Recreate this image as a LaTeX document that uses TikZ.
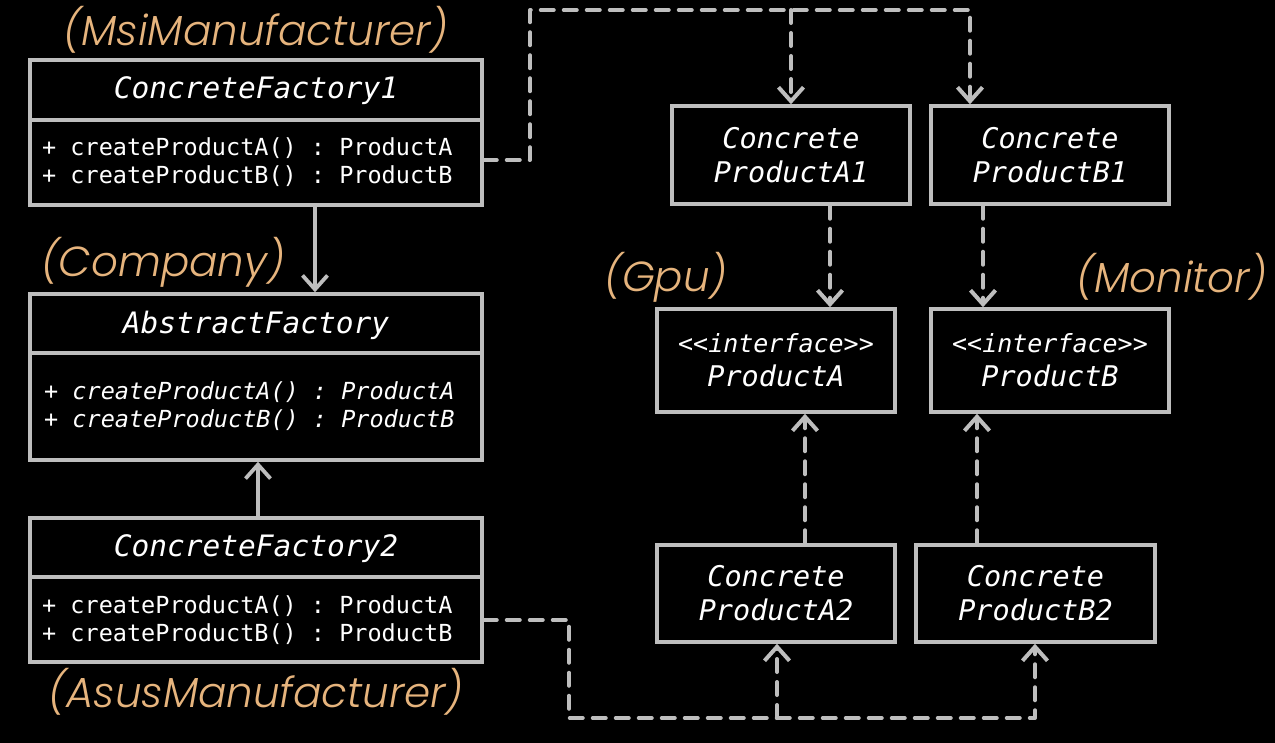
\documentclass[tikz,border=0pt]{standalone}
\usepackage{fontspec}
\setmonofont{DejaVu Sans Mono}
\newfontfamily\labfont{Poppins Light Italic}
\usetikzlibrary{arrows.meta}
\definecolor{ln}{HTML}{BEBEBE}
\definecolor{org}{HTML}{E6B47D}
\begin{document}
\begin{tikzpicture}[x=1pt,y=-1pt,
  box/.style={draw=ln,line width=3.5pt,inner sep=0pt,fill=black},
  cls/.style={box,minimum width=452pt},
  pbox/.style={box,minimum width=238pt,align=center,text=white,
    font=\ttfamily\itshape\fontsize{28.5}{34}\selectfont},
  ttl/.style={text=white,font=\ttfamily\itshape\fontsize{29.5}{34}\selectfont,inner sep=0pt},
  meth/.style={text=white,anchor=west,align=left,inner sep=0pt,
    font=\ttfamily\fontsize{23.5}{28}\selectfont},
  methi/.style={meth,font=\ttfamily\itshape\fontsize{23.5}{28}\selectfont},
  lab/.style={text=org,font=\labfont\fontsize{42}{46}\selectfont,inner sep=0pt},
  div/.style={draw=ln,line width=3.5pt},
  tipo/.tip={Straight Barb[length=14pt,width=25pt]},
  sol/.style={draw=ln,line width=3.8pt,-tipo},
  dep/.style={draw=ln,line width=4pt,dash pattern=on 13pt off 10pt,line cap=round,line join=round},
  depa/.style={dep,-tipo}
]
\fill[black] (0,0) rectangle (1275,743);
\useasboundingbox (0,0) rectangle (1275,743);

% class boxes
\node[cls,minimum height=145pt] (cf1) at (256,132.5) {};
\node[cls,minimum height=166pt] (af) at (256,377) {};
\node[cls,minimum height=144pt] (cf2) at (256,590) {};
\draw[div] (cf1.west |- 0,120) -- (cf1.east |- 0,120);
\draw[div] (af.west |- 0,353) -- (af.east |- 0,353);
\draw[div] (cf2.west |- 0,577) -- (cf2.east |- 0,577);

\node[ttl] (cf1t) at (256,91) {ConcreteFactory1};
\node[meth] (cf1m) at (42,162) {+ createProductA() : ProductA\\+ createProductB() : ProductB};
\node[ttl] (aft) at (256,325) {AbstractFactory};
\node[methi] (afm) at (44,406) {+ createProductA() : ProductA\\+ createProductB() : ProductB};
\node[ttl] (cf2t) at (256,549) {ConcreteFactory2};
\node[meth] (cf2m) at (42,620) {+ createProductA() : ProductA\\+ createProductB() : ProductB};

% product boxes
\node[pbox,minimum height=98pt] (cpa1) at (791,155) {Concrete\\ProductA1};
\node[pbox,minimum height=98pt] (cpb1) at (1050,155) {Concrete\\ProductB1};
\node[pbox,minimum height=103pt] (pa) at (776,360.5) {{\fontsize{25}{33}\selectfont{<}{<}interface{>}{>}}\\ProductA};
\node[pbox,minimum height=103pt] (pb) at (1050,360.5) {{\fontsize{25}{33}\selectfont{<}{<}interface{>}{>}}\\ProductB};
\node[pbox,minimum height=97pt] (cpa2) at (776,593.5) {Concrete\\ProductA2};
\node[pbox,minimum height=97pt,minimum width=239pt] (cpb2) at (1035.5,593.5) {Concrete\\ProductB2};

% labels
\node[lab] (l1) at (256,30) {(MsiManufacturer)};
\node[lab] (l2) at (163,262) {(Company)};
\node[lab] (l3) at (256,692) {(AsusManufacturer)};
\node[lab] (l4) at (666,277) {(Gpu)};
\node[lab] (l5) at (1172,277) {(Monitor)};

% solid arrows
\draw[sol] (315,0 |- cf1.south) -- (315,0 |- af.north);
\draw[sol] (258,0 |- cf2.north) -- (258,0 |- af.south);

% dependency dashed arrows
\coordinate (c1) at (530,160);
\coordinate (c2) at (530,10);
\coordinate (c3) at (791,10);
\draw[depa] (cf1.east |- c1) -- (c1) -- (c2) -| (970,0 |- cpb1.north);
\draw[depa] (c3) -- (cpa1.north);
\draw[depa] (830,0 |- cpa1.south) -- (830,0 |- pa.north);
\draw[depa] (983,0 |- cpb1.south) -- (983,0 |- pb.north);
\draw[depa] (805,0 |- cpa2.north) -- (805,0 |- pa.south);
\draw[depa] (977,0 |- cpb2.north) -- (977,0 |- pb.south);

\coordinate (d1) at (569,620);
\coordinate (d2) at (569,718);
\coordinate (d3) at (777,718);
\draw[depa] (cf2.east |- d1) -- (d1) -- (d2) -| (1035,0 |- cpb2.south);
\draw[depa] (d3) -- (777,0 |- cpa2.south);
\end{tikzpicture}
\end{document}
